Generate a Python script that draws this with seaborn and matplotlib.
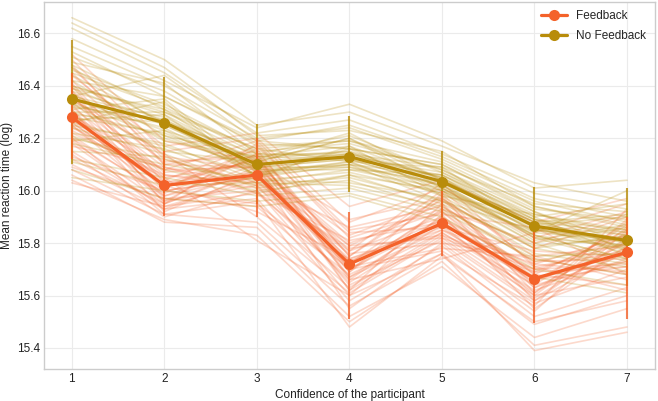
import pandas as pd
import seaborn as sns
import matplotlib.pyplot as plt

# confidence levels on the x axis
confidence = [1, 2, 3, 4, 5, 6, 7]

# group means and interval ends (log reaction time)
fb_mean = [16.28, 16.02, 16.06, 15.72, 15.875, 15.665, 15.765]
fb_lo = [16.12, 15.905, 15.90, 15.51, 15.75, 15.495, 15.51]
fb_hi = [16.45, 16.15, 16.20, 15.92, 16.00, 15.85, 15.90]
nf_mean = [16.35, 16.26, 16.10, 16.13, 16.035, 15.865, 15.81]
nf_lo = [16.10, 15.99, 15.95, 15.995, 15.90, 15.70, 15.635]
nf_hi = [16.575, 16.435, 16.255, 16.285, 16.15, 16.015, 16.01]

# posterior draws, one row per draw
fb_draws = [
    [16.31, 15.98, 16.10, 15.70, 15.92, 15.63, 15.80],
    [16.22, 16.06, 16.01, 15.78, 15.83, 15.70, 15.72],
    [16.40, 16.01, 16.14, 15.66, 15.90, 15.60, 15.86],
    [16.18, 15.93, 16.06, 15.74, 15.85, 15.72, 15.69],
    [16.35, 16.09, 15.99, 15.81, 15.88, 15.66, 15.76],
    [16.26, 16.02, 16.12, 15.62, 15.95, 15.58, 15.82],
    [16.45, 16.12, 16.03, 15.76, 15.80, 15.74, 15.68],
    [16.12, 15.95, 16.08, 15.69, 15.93, 15.68, 15.85],
    [16.29, 16.04, 16.17, 15.84, 15.86, 15.77, 15.75],
    [16.33, 15.97, 16.00, 15.60, 15.91, 15.55, 15.79],
    [16.24, 16.08, 16.09, 15.79, 15.82, 15.69, 15.71],
    [16.38, 16.00, 16.05, 15.72, 15.97, 15.64, 15.88],
    [16.20, 15.99, 16.13, 15.67, 15.84, 15.62, 15.74],
    [16.50, 16.15, 16.20, 15.88, 16.01, 15.82, 15.92],
    [16.08, 15.91, 15.88, 15.56, 15.76, 15.49, 15.60],
    [16.27, 16.03, 16.07, 15.73, 15.89, 15.71, 15.77],
    [16.30, 15.96, 16.02, 15.65, 15.87, 15.59, 15.81],
    [16.36, 16.07, 16.10, 15.80, 15.92, 15.67, 15.73],
    [16.15, 15.94, 16.04, 15.71, 15.78, 15.75, 15.66],
    [16.42, 16.10, 16.15, 15.75, 15.98, 15.61, 15.84],
    [16.25, 16.00, 15.95, 15.68, 15.85, 15.66, 15.78],
    [16.04, 15.89, 15.83, 15.50, 15.73, 15.41, 15.48],
    [16.32, 16.05, 16.11, 15.77, 15.90, 15.69, 15.83],
    [16.21, 15.98, 16.06, 15.64, 15.81, 15.57, 15.70],
    [16.47, 16.13, 16.08, 15.83, 15.96, 15.78, 15.90],
    [16.10, 15.93, 15.97, 15.58, 15.79, 15.52, 15.63],
    [16.28, 16.01, 16.16, 15.70, 15.88, 15.65, 15.87],
    [16.34, 16.06, 16.03, 15.86, 15.94, 15.73, 15.74],
    [16.19, 15.95, 16.09, 15.62, 15.83, 15.60, 15.67],
    [16.26, 16.02, 15.92, 15.74, 15.87, 15.70, 15.80],
    [16.38, 16.11, 16.13, 15.69, 15.99, 15.63, 15.76],
    [16.14, 15.90, 16.00, 15.66, 15.74, 15.84, 15.95],
    [16.44, 16.17, 16.22, 15.94, 16.04, 15.88, 15.97],
    [16.06, 15.88, 15.86, 15.52, 15.71, 15.44, 15.55],
    [16.23, 16.05, 15.81, 15.60, 15.76, 15.39, 15.46],
    [16.37, 15.95, 16.18, 15.82, 15.93, 15.80, 15.91],
    [16.17, 16.09, 16.02, 15.77, 16.03, 15.71, 15.62],
    [16.31, 15.92, 16.07, 15.55, 15.80, 15.54, 15.85],
    [16.52, 16.19, 16.11, 15.89, 15.97, 15.75, 15.79],
    [16.09, 15.97, 15.94, 15.63, 15.84, 15.64, 15.73],
    [16.29, 16.08, 16.19, 15.85, 15.91, 15.86, 15.68],
    [16.20, 15.91, 15.96, 15.48, 15.75, 15.50, 15.58],
    [16.41, 16.03, 16.12, 15.73, 15.86, 15.61, 15.89],
    [16.13, 16.00, 16.05, 15.79, 15.95, 15.68, 15.64],
    [16.35, 16.14, 15.90, 15.61, 15.82, 15.58, 15.77],
    [16.25, 15.96, 16.14, 15.75, 16.00, 15.72, 15.83],
    [16.48, 16.10, 16.09, 15.67, 15.89, 15.66, 15.71],
    [16.03, 15.94, 15.99, 15.70, 15.77, 15.56, 15.93],
]
nf_draws = [
    [16.38, 16.27, 16.12, 16.15, 16.05, 15.88, 15.84],
    [16.30, 16.21, 16.08, 16.10, 16.02, 15.83, 15.78],
    [16.46, 16.33, 16.15, 16.18, 16.08, 15.92, 15.80],
    [16.25, 16.18, 16.04, 16.07, 15.99, 15.80, 15.86],
    [16.40, 16.30, 16.13, 16.12, 16.06, 15.90, 15.75],
    [16.33, 16.24, 16.06, 16.16, 16.01, 15.85, 15.82],
    [16.55, 16.40, 16.20, 16.24, 16.12, 15.96, 15.88],
    [16.20, 16.12, 16.02, 16.05, 15.96, 15.78, 15.72],
    [16.36, 16.28, 16.11, 16.20, 16.04, 15.87, 15.90],
    [16.28, 16.22, 16.09, 16.09, 16.03, 15.82, 15.79],
    [16.44, 16.26, 16.14, 16.13, 16.07, 15.89, 15.83],
    [16.31, 16.35, 16.07, 16.11, 16.00, 15.86, 15.77],
    [16.62, 16.45, 16.22, 16.27, 16.14, 15.99, 15.93],
    [16.12, 16.05, 15.98, 16.01, 15.92, 15.74, 15.68],
    [16.39, 16.25, 16.10, 16.14, 16.05, 15.84, 15.81],
    [16.27, 16.29, 16.05, 16.17, 15.98, 15.91, 15.85],
    [16.48, 16.31, 16.16, 16.11, 16.09, 15.86, 15.76],
    [16.22, 16.16, 16.03, 16.08, 16.01, 15.81, 15.87],
    [16.35, 16.23, 16.12, 16.22, 16.04, 15.88, 15.80],
    [16.05, 16.00, 15.96, 15.99, 15.90, 15.70, 15.64],
    [16.42, 16.36, 16.18, 16.16, 16.10, 15.93, 15.89],
    [16.34, 16.20, 16.09, 16.12, 16.02, 15.85, 15.79],
    [16.66, 16.50, 16.25, 16.30, 16.17, 16.03, 15.96],
    [16.29, 16.26, 16.07, 16.10, 16.06, 15.87, 15.83],
    [16.37, 16.19, 16.13, 16.15, 16.00, 15.83, 15.74],
    [16.24, 16.14, 16.01, 16.06, 15.95, 15.79, 15.82],
    [16.51, 16.38, 16.17, 16.19, 16.11, 15.94, 15.86],
    [16.32, 16.27, 16.10, 16.13, 16.03, 15.89, 15.78],
    [16.18, 16.10, 16.04, 16.03, 15.97, 15.76, 15.71],
    [16.45, 16.32, 16.14, 16.21, 16.07, 15.91, 15.84],
    [16.26, 16.17, 16.06, 16.09, 15.99, 15.84, 16.00],
    [16.40, 16.29, 16.11, 16.14, 16.05, 15.86, 15.80],
    [16.58, 16.42, 16.24, 16.33, 16.19, 16.01, 16.04],
    [16.08, 15.97, 15.94, 15.98, 15.88, 15.67, 15.61],
    [16.36, 16.44, 16.19, 16.25, 16.13, 15.97, 15.90],
    [16.21, 16.08, 16.00, 16.04, 15.93, 15.75, 15.76],
    [16.47, 16.25, 16.09, 16.12, 16.02, 15.82, 15.73],
    [16.30, 16.30, 16.16, 16.19, 16.08, 15.90, 15.95],
    [16.64, 16.47, 16.21, 16.23, 16.15, 15.94, 15.87],
    [16.15, 16.13, 15.99, 16.06, 16.00, 15.80, 15.69],
    [16.42, 16.21, 16.13, 16.17, 16.04, 15.88, 15.91],
    [16.26, 16.34, 16.05, 16.10, 15.96, 15.85, 15.81],
    [16.53, 16.36, 16.19, 16.16, 16.10, 15.92, 15.77],
    [16.11, 16.02, 16.03, 16.02, 15.94, 15.73, 15.80],
    [16.39, 16.31, 16.08, 16.08, 16.06, 15.89, 15.85],
    [16.33, 16.15, 16.11, 16.20, 16.01, 15.83, 15.74],
    [16.49, 16.41, 16.14, 16.14, 16.09, 15.95, 15.92],
    [16.19, 16.23, 16.06, 16.11, 15.98, 15.78, 15.83],
]

groups = ['Feedback', 'No Feedback']
colors = {'Feedback': '#F4622A', 'No Feedback': '#B88C0A'}


def draws_to_long(draws, group):
    rows = []
    for i, d in enumerate(draws):
        for c, v in zip(confidence, d):
            rows.append({'draw': i, 'confidence': c, 'rt': v, 'group': group})
    return pd.DataFrame(rows)


df_draws = pd.concat([draws_to_long(fb_draws, 'Feedback'),
                      draws_to_long(nf_draws, 'No Feedback')], ignore_index=True)

df_mean = pd.DataFrame({
    'confidence': confidence * 2,
    'rt': fb_mean + nf_mean,
    'lo': fb_lo + nf_lo,
    'hi': fb_hi + nf_hi,
    'group': ['Feedback'] * 7 + ['No Feedback'] * 7,
})

sns.set_theme(style='whitegrid')
plt.rcParams['font.family'] = ['Liberation Sans', 'DejaVu Sans']

fig, ax = plt.subplots(figsize=(6.58, 4.01), dpi=100)
fig.subplots_adjust(left=0.067, right=0.995, top=0.995, bottom=0.08)

# thin spaghetti lines of the draws
for g in groups:
    sub = df_draws[df_draws['group'] == g]
    sns.lineplot(data=sub, x='confidence', y='rt', units='draw', estimator=None,
                 color=colors[g], alpha=0.24, linewidth=1.2, ax=ax, legend=False)

# intervals
for g in ['No Feedback', 'Feedback']:
    sub = df_mean[df_mean['group'] == g]
    ax.vlines(sub['confidence'], sub['lo'], sub['hi'], color=colors[g],
              linewidth=1.5, alpha=0.8, zorder=3)

# group means
sns.lineplot(data=df_mean, x='confidence', y='rt', hue='group', hue_order=groups,
             palette=colors, marker='o', markersize=8, markeredgewidth=0,
             linewidth=2.3, ax=ax, zorder=4)

ax.set_xlim(0.7, 7.3)
ax.set_ylim(15.32, 16.72)
ax.set_xticks(confidence)
ax.set_yticks([15.4, 15.6, 15.8, 16.0, 16.2, 16.4, 16.6])
ax.set_yticklabels(['15.4', '15.6', '15.8', '16.0', '16.2', '16.4', '16.6'])
ax.tick_params(labelsize=8.5, colors='#222222', length=0, pad=3)
ax.set_xlabel('Confidence of the participant', fontsize=8.5, color='#222222', labelpad=3)
ax.set_ylabel('Mean reaction time (log)', fontsize=8.5, color='#222222', labelpad=3)
ax.grid(color='#ebebeb', linewidth=0.8)
for s in ax.spines.values():
    s.set_color('#cccccc')
    s.set_linewidth(1.0)

leg = ax.legend(loc='upper right', frameon=False, fontsize=8.5, title=None,
                handlelength=2.2, labelspacing=0.65, borderaxespad=0.3)

fig.savefig('out.png', dpi=100)
